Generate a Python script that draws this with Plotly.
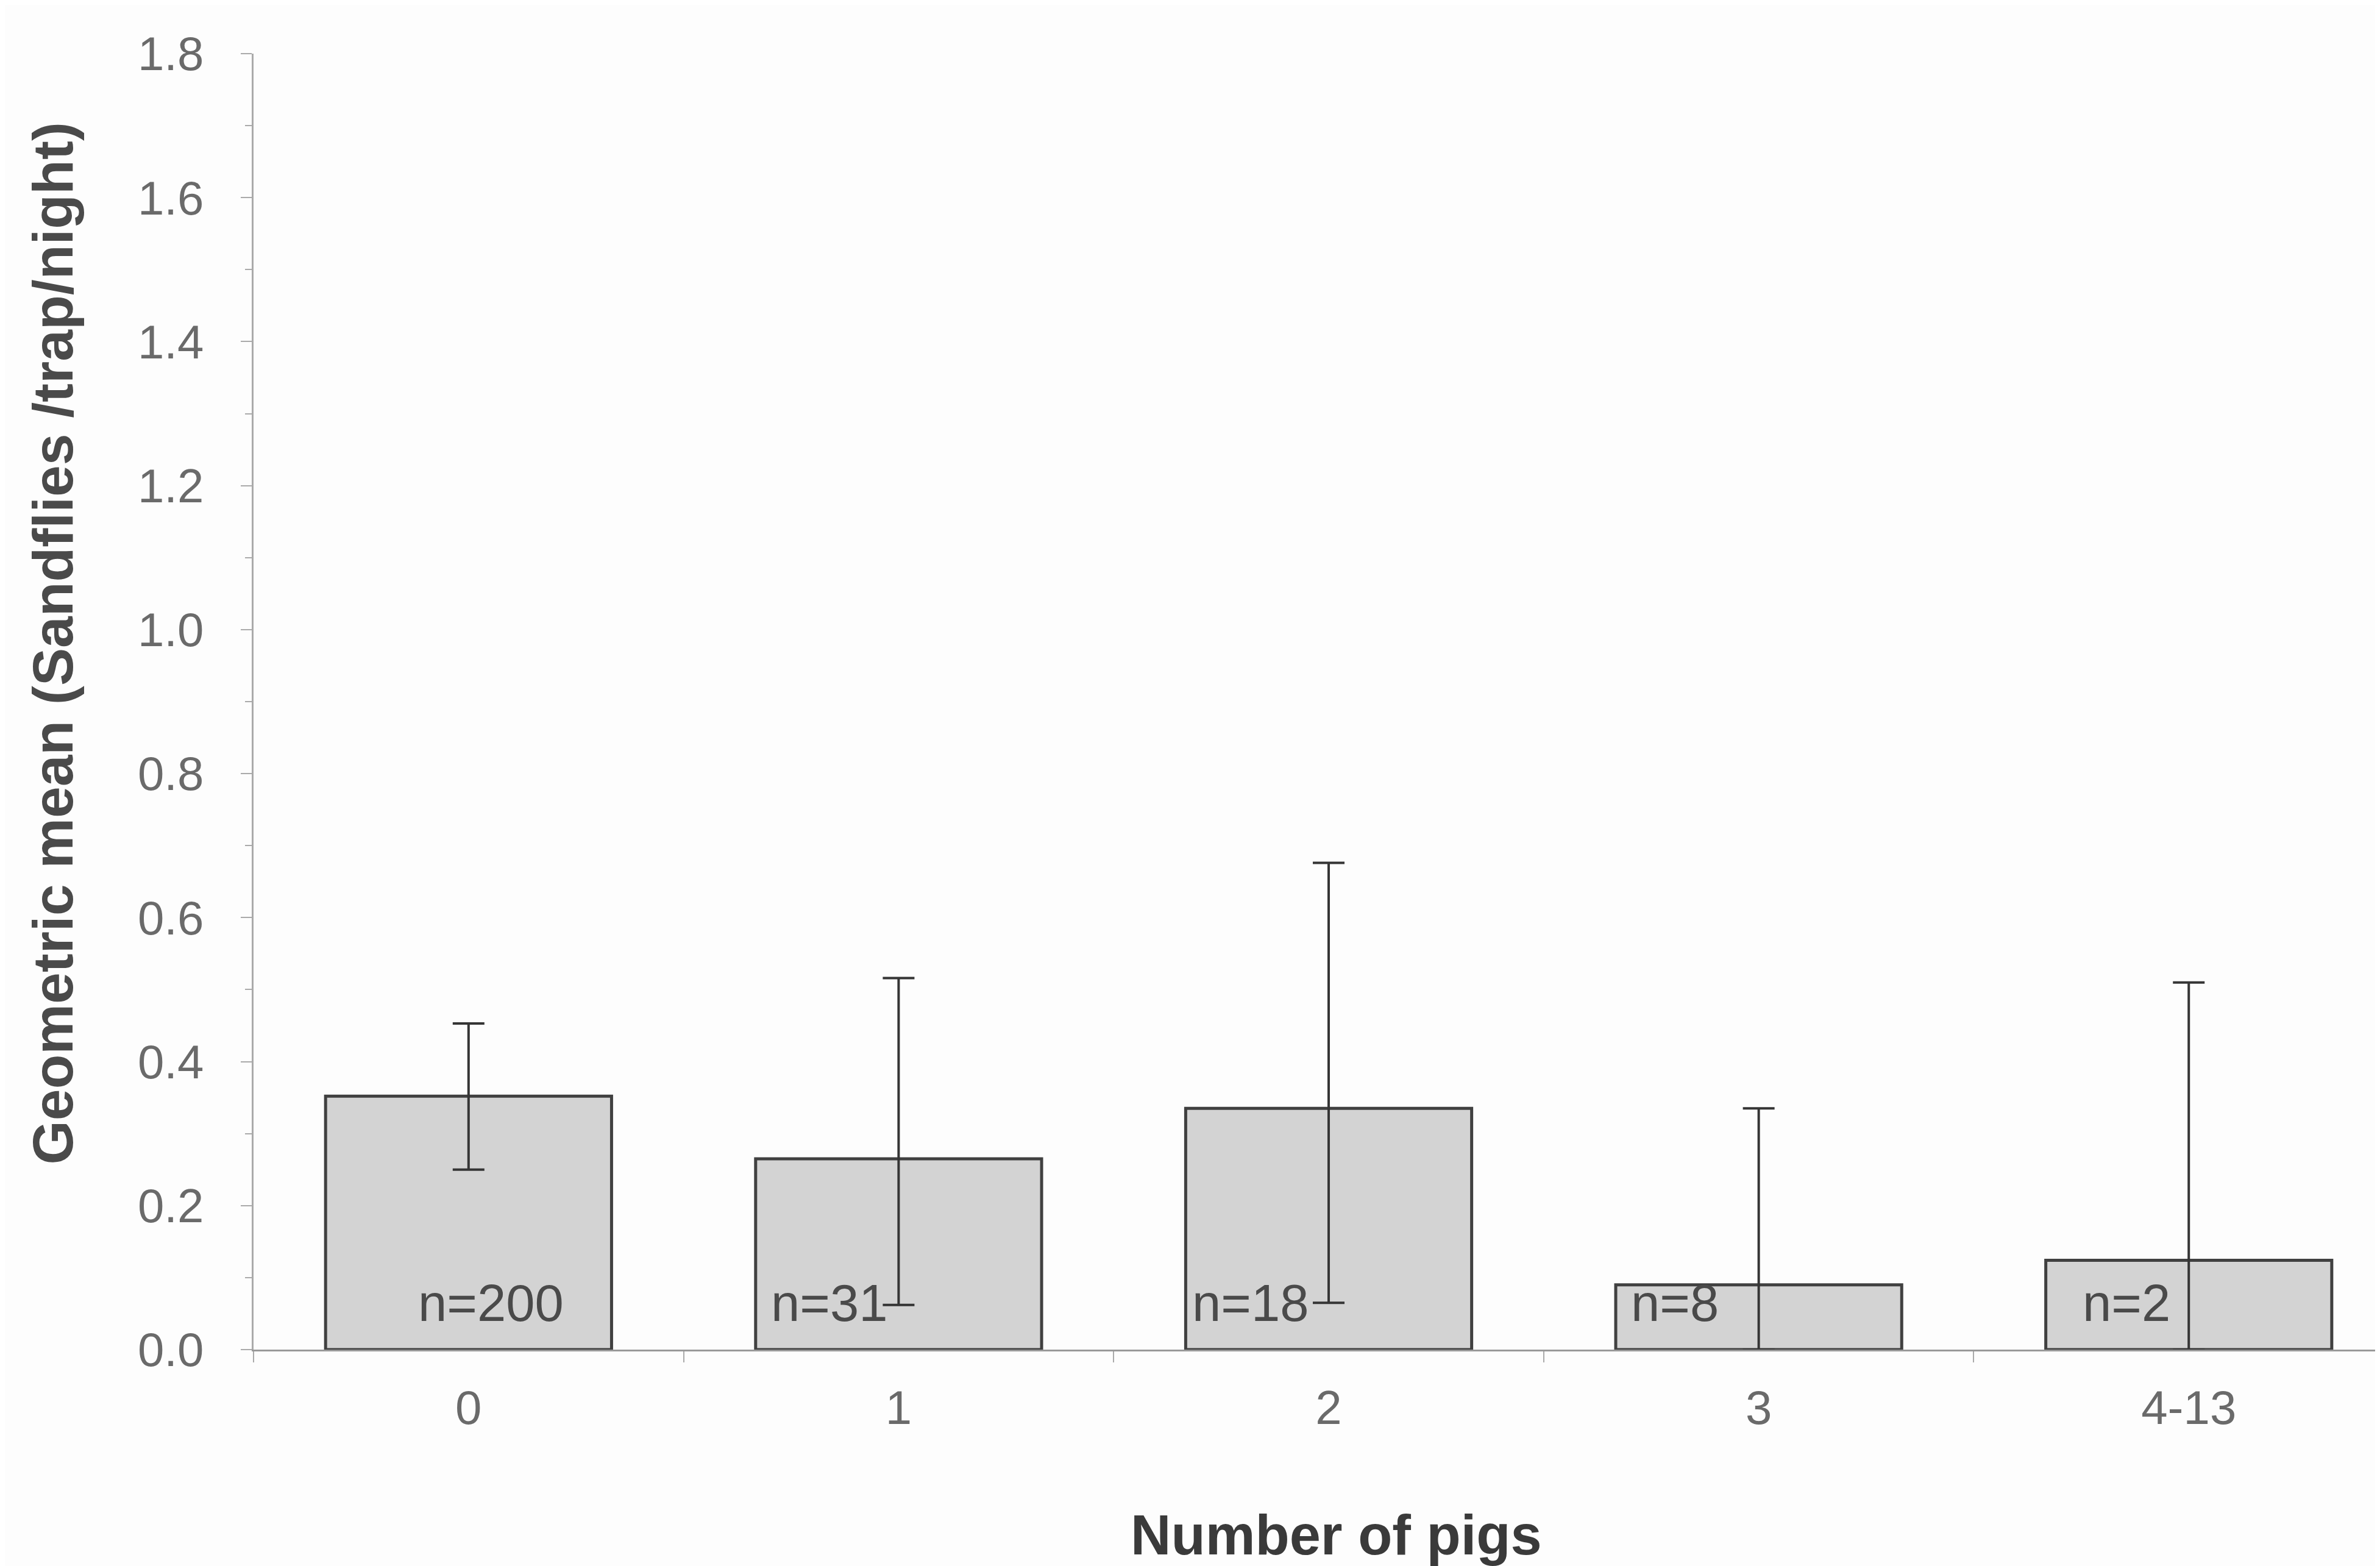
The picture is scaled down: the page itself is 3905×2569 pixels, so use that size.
import plotly.graph_objects as go

categories = ["0", "1", "2", "3", "4-13"]
geo_mean = [0.352, 0.265, 0.335, 0.090, 0.124]
ci_upper = [0.453, 0.516, 0.676, 0.335, 0.510]
ci_lower = [0.250, 0.062, 0.065, 0.0, 0.0]
n_labels = ["n=200", "n=31", "n=18", "n=8", "n=2"]

# label placement (style, not data)
label_offsets = [-0.12, -0.30, -0.32, -0.30, -0.25]

err_plus = [u - m for u, m in zip(ci_upper, geo_mean)]
err_minus = [m - l for m, l in zip(geo_mean, ci_lower)]

FONT = "Liberation Sans, Arial, sans-serif"

fig = go.Figure()
fig.add_trace(go.Bar(
    x=categories,
    y=geo_mean,
    marker=dict(color="#d3d3d3", line=dict(color="#404040", width=5)),
    width=0.665,
    error_y=dict(type="data", symmetric=False, array=err_plus, arrayminus=err_minus,
                 color="#353535", thickness=4, width=26),
    showlegend=False,
))

annotations = []
for i, (lab, off) in enumerate(zip(n_labels, label_offsets)):
    annotations.append(dict(x=i + off, y=0.065, xref="x", yref="y", text=lab,
                            showarrow=False, xanchor="left", yanchor="middle",
                            font=dict(family=FONT, size=85, color="#4a4a4a")))

annotations.append(dict(x=0.508, y=-0.143, xref="paper", yref="paper",
                        text="<b>Number of pigs</b>", showarrow=False,
                        xanchor="center", yanchor="middle",
                        font=dict(family=FONT, size=92, color="#3a3a3a")))
annotations.append(dict(x=-0.094, y=0.545, xref="paper", yref="paper",
                        text="<b>Geometric mean (Sandflies /trap/night)</b>",
                        textangle=-90, showarrow=False,
                        xanchor="center", yanchor="middle",
                        font=dict(family=FONT, size=93, color="#4a4a4a")))

fig.update_layout(
    width=3905, height=2569,
    margin=dict(l=408, r=0, t=80, b=363, autoexpand=False),
    paper_bgcolor="#fdfdfd", plot_bgcolor="#fdfdfd",
    annotations=annotations,
    font=dict(family=FONT),
)
fig.update_xaxes(
    type="category", range=[-0.5, 4.456],
    showgrid=False, zeroline=False,
    showline=True, linecolor="#999999", linewidth=3,
    ticks="outside", tickson="boundaries", ticklen=18, tickwidth=2, tickcolor="#aaaaaa",
    tickfont=dict(family=FONT, size=78, color="#6a6a6a"), ticklabelstandoff=25,
)
fig.update_yaxes(
    range=[0, 1.8], tickmode="linear", tick0=0, dtick=0.2, tickformat=".1f",
    showgrid=False, zeroline=False,
    showline=True, linecolor="#aaaaaa", linewidth=3,
    ticks="outside", ticklen=18, tickwidth=2, tickcolor="#aaaaaa",
    minor=dict(ticks="outside", dtick=0.1, ticklen=11, tickwidth=2, tickcolor="#aaaaaa"),
    tickfont=dict(family=FONT, size=78, color="#6a6a6a"), ticklabelstandoff=45,
)

fig.write_html("out.html")
